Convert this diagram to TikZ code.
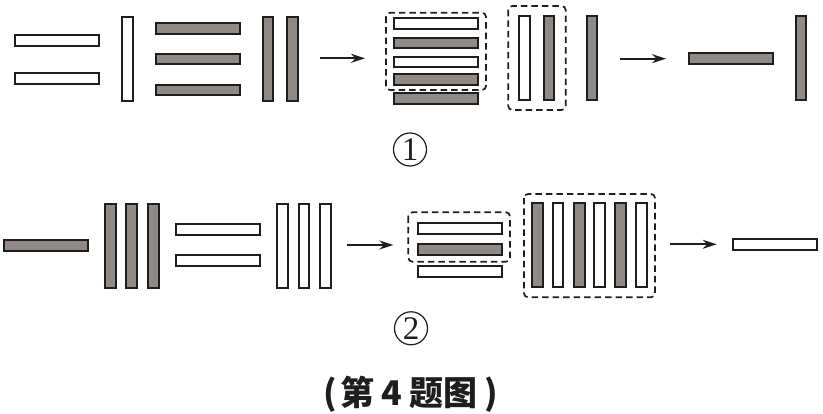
\documentclass[tikz,border=0pt]{standalone}
\usepackage{fontspec}
\newfontfamily\cjk{Noto Sans CJK SC}
\newfontfamily\serifnum{Liberation Serif}
\usetikzlibrary{arrows.meta}
\definecolor{barfill}{RGB}{143,138,133}
\definecolor{ink}{RGB}{30,30,30}
\tikzset{
  bar/.style={draw=ink, line width=2pt, inner sep=0pt, outer sep=0pt},
  wbar/.style={bar, fill=white},
  gbar/.style={bar, fill=barfill},
  hsz/.style={minimum width=84pt, minimum height=10.7pt},
  vsz/.style={minimum width=10.7pt, minimum height=84pt},
  dbox/.style={draw=ink, line width=1.7pt, dash pattern=on 6.5pt off 4pt, rounded corners=4pt},
  conn/.style={draw=ink, line width=1.8pt, -{Stealth[length=14pt,width=9pt]}},
  circnum/.style={circle, draw=ink, line width=1.2pt, minimum size=33pt, inner sep=0pt,
    font=\serifnum\fontsize{33}{33}\selectfont, text=ink}
}
\begin{document}
\begin{tikzpicture}[x=1pt,y=-1pt]
\useasboundingbox (0,0) rectangle (823,414);
% ---- row 1 ----
\node[wbar,hsz] (a1) at (57,40.3) {};
\node[wbar,hsz] (a2) at (57,78.5) {};
\node[wbar,vsz] (a3) at (127.5,59.5) {};
\node[gbar,hsz] (a4) at (198,28.7) {};
\node[gbar,hsz] (a5) at (198,59) {};
\node[gbar,hsz] (a6) at (198,90) {};
\node[gbar,vsz] (a7) at (268,59) {};
\node[gbar,vsz] (a8) at (292.5,59) {};
\coordinate (r1s) at (320,58.3);
\coordinate (r1e) at (365,58.3);
\draw[conn] (r1s) -- (r1e);
\node[wbar,hsz] (b1) at (435.5,23.3) {};
\node[gbar,hsz] (b2) at (435.5,43) {};
\node[wbar,hsz] (b3) at (435.5,62) {};
\node[gbar,hsz] (b4) at (435.5,79.7) {};
\node[gbar,hsz] (b5) at (435.5,98.3) {};
\draw[dbox] (386,12.7) rectangle (486,90);
\node[wbar,vsz] (b6) at (524.5,58) {};
\node[gbar,vsz] (b7) at (549,58) {};
\draw[dbox] (508.3,6) rectangle (565.7,110);
\node[gbar,vsz] (b8) at (592,58) {};
\coordinate (r2s) at (620,58.7);
\coordinate (r2e) at (666,58.7);
\draw[conn] (r2s) -- (r2e);
\node[gbar,hsz] (c1) at (731,58.7) {};
\node[gbar,vsz] (c2) at (801,58.5) {};
\node[circnum] (l1) at (410,149.5) {1};
% ---- row 2 ----
\node[gbar,hsz] (d1) at (46,245.3) {};
\node[gbar,vsz] (d2) at (110.7,245.7) {};
\node[gbar,vsz] (d3) at (131.8,245.7) {};
\node[gbar,vsz] (d4) at (153.3,245.7) {};
\node[wbar,hsz] (d5) at (218,229.5) {};
\node[wbar,hsz] (d6) at (218,260.8) {};
\node[wbar,vsz] (d7) at (282.8,245.7) {};
\node[wbar,vsz] (d8) at (304,245.7) {};
\node[wbar,vsz] (d9) at (325.3,245.7) {};
\coordinate (r3s) at (346.7,245);
\coordinate (r3e) at (393.3,245);
\draw[conn] (r3s) -- (r3e);
\node[wbar,hsz] (e1) at (459.5,228.8) {};
\node[gbar,hsz] (e2) at (459.5,249.8) {};
\node[wbar,hsz] (e3) at (459.5,271.8) {};
\draw[dbox] (408.3,212.3) rectangle (510,261.7);
\node[gbar,vsz] (f1) at (537.2,245.3) {};
\node[wbar,vsz] (f2) at (558,245.3) {};
\node[gbar,vsz] (f3) at (579.2,245.3) {};
\node[wbar,vsz] (f4) at (599.7,245.3) {};
\node[gbar,vsz] (f5) at (620.7,245.3) {};
\node[wbar,vsz] (f6) at (641.3,245.3) {};
\draw[dbox] (524,194) rectangle (655,297.3);
\coordinate (r4s) at (670,244.3);
\coordinate (r4e) at (716.7,244.3);
\draw[conn] (r4s) -- (r4e);
\node[wbar,hsz] (g1) at (775.3,244.8) {};
\node[circnum] (l2) at (411,328.3) {2};
\node[font=\cjk\bfseries\fontsize{34}{34}\selectfont, text=ink, inner sep=0pt] (cap) at (411,394.7)
  {(\hspace{3pt}第\hspace{7pt}4\hspace{8pt}题图\hspace{7pt})};
\end{tikzpicture}
\end{document}
